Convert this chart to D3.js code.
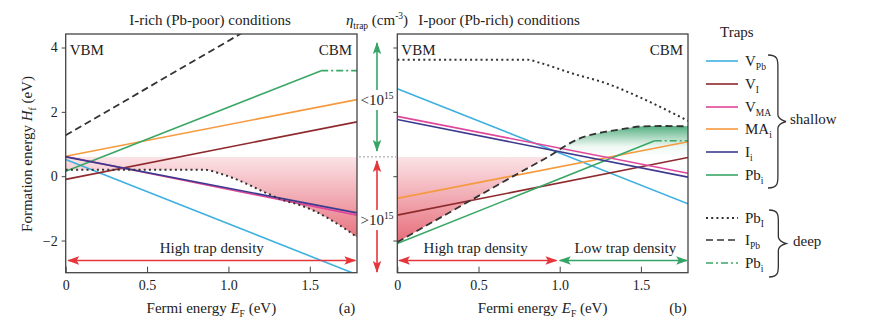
<!DOCTYPE html>
<html>
<head>
<meta charset="utf-8">
<script src="https://cdn.jsdelivr.net/npm/d3@7/dist/d3.min.js"></script>
<style>
    body { margin: 0; background: #fff; }
    svg, svg text { font-family: "Liberation Serif", "DejaVu Serif", serif !important; }
    svg text { fill: #222; }
</style>
</head>
<body>
<div id="chart"></div>
<script>
// ---- data: formation energy H_f (eV) vs Fermi energy E_F (eV) ----
const fermiDomain = [0, 1.79];
const energyDomain = [-3, 4.42];
const fermiTicks = [0, 0.5, 1.0, 1.5];
const energyTicks = [-2, 0, 2, 4];
const densityLimit = 0.6;   // H_f at which n_trap = 1e15 cm^-3

const trapKeys = ["VPb", "VI", "VMA", "MAi", "Ii", "Pbi"];
const trapColors = ["#3fb0e0", "#8e2a2e", "#e0479a", "#f59a3e", "#3b3a8f", "#3aa766"];

// I-rich (Pb-poor), shallow traps
const richVPb = [[0, 0.52], [1.79, -3.06]];
const richVI = [[0, -0.10], [1.79, 1.69]];
const richVMA = [[0, 0.61], [1.79, -1.21]];
const richMAi = [[0, 0.62], [1.79, 2.38]];
const richIi = [[0, 0.60], [1.79, -1.14]];
const richPbi = [[0, 0.15], [1.57, 3.28]];
// I-rich, deep traps
const richPbI = [[0, 0.2], [0.85, 0.2], [0.95, 0.08], [1.03, -0.06], [1.13, -0.28], [1.24, -0.54],
    [1.34, -0.75], [1.44, -0.9], [1.54, -1.11], [1.65, -1.42], [1.73, -1.68], [1.79, -1.9]];
const richIPb = [[0, 1.27], [1.79, 6.53]];
const richPbiDeep = [[1.57, 3.28], [1.79, 3.28]];

// I-poor (Pb-rich), shallow traps
const poorVPb = [[0, 2.72], [1.79, -0.86]];
const poorVI = [[0, -1.21], [1.79, 0.58]];
const poorVMA = [[0, 1.86], [1.79, 0.09]];
const poorMAi = [[0, -0.69], [1.79, 1.07]];
const poorIi = [[0, 1.76], [1.79, -0.03]];
const poorPbi = [[0, -2.09], [1.585, 1.10]];
// I-poor, deep traps
const poorPbI = [[0, 3.62], [0.8, 3.62], [0.88, 3.52], [1.08, 3.19], [1.29, 2.88], [1.49, 2.46],
    [1.7, 1.95], [1.79, 1.72]];
const poorIPb = [[0, -2.05], [0.76, 0.13], [0.96, 0.70], [1.04, 0.96], [1.12, 1.17], [1.23, 1.33],
    [1.37, 1.45], [1.51, 1.55], [1.62, 1.56], [1.79, 1.55]];
const poorPbiDeep = [[1.585, 1.10], [1.79, 1.10]];

// legend entries
const legendMain = ["V", "V", "V", "MA", "I", "Pb", "Pb", "I", "Pb"];
const legendSub = ["Pb", "I", "MA", "i", "i", "i", "I", "Pb", "i"];

const serif = "'Liberation Serif', 'DejaVu Serif', serif";

const svg = d3.select("#chart").append("svg")
    .attr("width", 876)
    .attr("height", 326)
    .attr("font-family", serif);

const defs = svg.append("defs");
const yShared = d3.scaleLinear().domain(energyDomain).range([272.7, 34]);

// shading: green (low density) above the limit, red (high density) below
let gTop = yShared(1.55), gBot = yShared(-2.1);
let cut = (yShared(densityLimit) - gTop) / (gBot - gTop);
let grad = defs.append("linearGradient")
    .attr("id", "densityFill")
    .attr("gradientUnits", "userSpaceOnUse")
    .attr("x1", 0).attr("x2", 0)
    .attr("y1", gTop).attr("y2", gBot);
[[0, "#58b184"], [cut - 0.09, "#eef8f2"], [cut, "#ffffff"], [cut + 0.001, "#fbe3e6"], [1, "#e66b78"]]
    .forEach(s => grad.append("stop").attr("offset", s[0]).attr("stop-color", s[1]));

function addArrowHead(id, color) {
    defs.append("marker")
        .attr("id", id)
        .attr("viewBox", "0 0 12 10")
        .attr("refX", 11)
        .attr("refY", 5)
        .attr("markerWidth", 12)
        .attr("markerHeight", 10)
        .attr("markerUnits", "userSpaceOnUse")
        .attr("orient", "auto-start-reverse")
        .append("path")
        .attr("d", "M0,0.8 L12,5 L0,9.2 L2.5,5 Z")
        .attr("fill", color);
}
addArrowHead("headRed", "#e5363c");
addArrowHead("headGreen", "#35a466");

function doubleArrow(x1, y1, x2, y2, color, head) {
    svg.append("line")
        .attr("x1", x1).attr("y1", y1)
        .attr("x2", x2).attr("y2", y2)
        .attr("stroke", color)
        .attr("stroke-width", 1.6)
        .attr("marker-start", `url(#${head})`)
        .attr("marker-end", `url(#${head})`);
}

// text with sub- or superscript parts
function scriptText(g, x, y, parts, anchor) {
    let t = g.append("text")
        .attr("x", x).attr("y", y)
        .attr("font-family", serif)
        .attr("font-size", 15)
        .attr("text-anchor", anchor || "start");
    let shift = 0;
    parts.forEach(p => {
        let dy = (p.dy || 0) - shift;
        shift = p.dy || 0;
        let s = t.append("tspan").text(p.t).attr("dy", dy);
        if (p.small) s.attr("font-size", 9.5);
        if (p.italic) s.attr("font-style", "italic");
    });
    return t;
}

function plainText(g, x, y, str, anchor) {
    return g.append("text")
        .attr("x", x).attr("y", y)
        .attr("font-family", serif)
        .attr("font-size", 15)
        .attr("text-anchor", anchor || "start")
        .text(str);
}


class TrapPanel {
    constructor(id, left, right, config) {
        this.id = id;
        this.left = left;
        this.right = right;
        this.config = config;
        this.initVis();
    }

    initVis() {
        let vis = this;

        vis.x = d3.scaleLinear().domain(fermiDomain).range([vis.left, vis.right]);
        vis.y = yShared;
        vis.top = vis.y.range()[1];
        vis.bottom = vis.y.range()[0];

        vis.g = svg.append("g").attr("class", "panel-" + vis.id);

        defs.append("clipPath").attr("id", "clip-" + vis.id)
            .append("rect")
            .attr("x", vis.left).attr("y", vis.top)
            .attr("width", vis.right - vis.left)
            .attr("height", vis.bottom - vis.top);

        vis.plot = vis.g.append("g").attr("clip-path", `url(#clip-${vis.id})`);

        vis.line = d3.line()
            .x(d => vis.x(d[0]))
            .y(d => vis.y(d[1]));

        vis.curve = d3.line()
            .curve(d3.curveMonotoneX)
            .x(d => vis.x(d[0]))
            .y(d => vis.y(d[1]));

        vis.area = d3.area()
            .curve(d3.curveMonotoneX)
            .x(d => vis.x(d[0]))
            .y0(vis.y(densityLimit))
            .y1(d => vis.y(d[1]));

        vis.updateVis();
    }

    updateVis() {
        let vis = this;
        let c = vis.config;

        // trap density shading
        vis.plot.append("path")
            .datum(c.shadeEdge)
            .attr("d", vis.area)
            .attr("fill", "url(#densityFill)");

        // shallow traps
        let order = [0, 1, 3, 5, 2, 4];
        vis.plot.selectAll(".shallow")
            .data(order)
            .enter().append("path")
            .attr("class", "shallow")
            .attr("d", i => vis.line(c.shallow[i]))
            .attr("fill", "none")
            .attr("stroke", i => trapColors[i])
            .attr("stroke-width", 1.6);

        // deep traps
        vis.plot.append("path").datum(c.pbI)
            .attr("d", vis.curve)
            .attr("fill", "none").attr("stroke", "#333")
            .attr("stroke-width", 2).attr("stroke-dasharray", "2,3.2");

        vis.plot.append("path").datum(c.iPb)
            .attr("d", vis.curve)
            .attr("fill", "none").attr("stroke", "#333")
            .attr("stroke-width", 1.8).attr("stroke-dasharray", "7,4");

        vis.plot.append("path").datum(c.pbiDeep)
            .attr("d", vis.line)
            .attr("fill", "none").attr("stroke", trapColors[5])
            .attr("stroke-width", 1.6).attr("stroke-dasharray", "7,3,2,3");

        // axes
        let xAxis = d3.axisBottom(vis.x)
            .tickValues(fermiTicks)
            .tickSize(-6)
            .tickPadding(7)
            .tickFormat(d => d === 0 ? "0" : d3.format(".1f")(d));

        vis.g.append("g")
            .attr("class", "x-axis axis")
            .attr("transform", `translate(0,${vis.bottom})`)
            .call(xAxis)
            .call(g => g.select(".domain").remove())
            .attr("font-size", 14)
            .attr("font-family", serif)
            .style("color", "#444");

        let yAxis = d3.axisLeft(vis.y)
            .tickValues(energyTicks)
            .tickSize(4)
            .tickPadding(4)
            .tickFormat(c.yLabels ? d3.format("d") : "");

        vis.g.append("g")
            .attr("class", "y-axis axis")
            .attr("transform", `translate(${vis.left},0)`)
            .call(yAxis)
            .call(g => g.select(".domain").remove())
            .attr("font-size", 14)
            .attr("font-family", serif)
            .style("color", "#444");

        vis.g.selectAll(".axis text").style("fill", "#222");

        vis.g.append("rect")
            .attr("x", vis.left).attr("y", vis.top)
            .attr("width", vis.right - vis.left)
            .attr("height", vis.bottom - vis.top)
            .attr("fill", "none")
            .attr("stroke", "#444")
            .attr("stroke-width", 1.3);

        // labels
        plainText(vis.g, vis.left + 4, 55, "VBM");
        plainText(vis.g, vis.right - 5, 55, "CBM", "end");
        plainText(vis.g, c.titleX, 25, c.title, "middle");

        let mid = (vis.left + vis.right) / 2;
        scriptText(vis.g, mid, 313, [{t: "Fermi energy "}, {t: "E", italic: true},
            {t: "F", small: true, dy: 4}, {t: " (eV)"}], "middle");
        plainText(vis.g, vis.right - 10, 313, c.tag, "middle");

        // density ranges along E_F
        let arrowY = vis.y(-2.62);
        c.ranges.forEach(r => {
            doubleArrow(vis.x(r.from), arrowY, vis.x(r.to), arrowY, r.color, r.head);
            plainText(vis.g, (vis.x(r.from) + vis.x(r.to)) / 2 + (r.shift || 0), arrowY - 7,
                r.label, "middle");
        });
    }
}

new TrapPanel("rich", 65.7, 357, {
    title: "I-rich (Pb-poor) conditions",
    titleX: 210,
    tag: "(a)",
    yLabels: true,
    shallow: [richVPb, richVI, richVMA, richMAi, richIi, richPbi],
    pbI: richPbI,
    iPb: richIPb,
    pbiDeep: richPbiDeep,
    shadeEdge: richPbI,
    ranges: [{from: 0.015, to: 1.78, color: "#e5363c", head: "headRed", label: "High trap density"}]
});

new TrapPanel("poor", 397.3, 688, {
    title: "I-poor (Pb-rich) conditions",
    titleX: 499,
    tag: "(b)",
    yLabels: false,
    shallow: [poorVPb, poorVI, poorVMA, poorMAi, poorIi, poorPbi],
    pbI: poorPbI,
    iPb: poorIPb,
    pbiDeep: poorPbiDeep,
    shadeEdge: poorIPb,
    ranges: [
        {from: 0.01, to: 0.98, color: "#e5363c", head: "headRed", label: "High trap density", shift: -2},
        {from: 1.0, to: 1.785, color: "#35a466", head: "headGreen", label: "Low trap density", shift: 2}
    ]
});

// n_trap scale between the panels
let midX = 377;
let limitY = yShared(densityLimit);
svg.append("line")
    .attr("x1", 359).attr("x2", 396)
    .attr("y1", limitY).attr("y2", limitY)
    .attr("stroke", "#999").attr("stroke-width", 1)
    .attr("stroke-dasharray", "2,2");

doubleArrow(midX, 43, midX, limitY - 6, "#35a466", "headGreen");
doubleArrow(midX, limitY + 4, midX, 272, "#e5363c", "headRed");

[[100, "<10"], [220, ">10"]].forEach(d => {
    svg.append("rect").attr("x", midX - 17).attr("y", d[0] - 10)
        .attr("width", 34).attr("height", 20).attr("fill", "#fff");
    scriptText(svg, midX, d[0] + 5, [{t: d[1]}, {t: "15", small: true, dy: -6}], "middle");
});

scriptText(svg, 377, 25, [{t: "η", italic: true}, {t: "trap", small: true, dy: 4},
    {t: " (cm"}, {t: "-3", small: true, dy: -6}, {t: ")"}], "middle");

// y axis title
scriptText(svg, 0, 0, [{t: "Formation energy "}, {t: "H", italic: true},
    {t: "f", small: true, dy: 4}, {t: " (eV)"}], "middle")
    .attr("transform", "translate(32,154) rotate(-90)");

// legend
let legend = svg.append("g").attr("class", "legend");
plainText(legend, 720, 37, "Traps");

let rowY = [61, 84, 107, 129, 152, 175, 218, 240, 263];
let rowColor = trapColors.concat(["#333", "#333", trapColors[5]]);
let rowDash = [null, null, null, null, null, null, "2,3.2", "7,4", "7,3,2,3"];

rowY.forEach((yy, i) => {
    legend.append("line")
        .attr("x1", 706).attr("x2", 738)
        .attr("y1", yy).attr("y2", yy)
        .attr("stroke", rowColor[i])
        .attr("stroke-width", i === 6 ? 2 : 1.6)
        .attr("stroke-dasharray", rowDash[i]);
    scriptText(legend, 745, yy + 5, [{t: legendMain[i]}, {t: legendSub[i], small: true, dy: 4}]);
});

function brace(x, y0, y1, w) {
    let m = (y0 + y1) / 2, h = w * 0.55;
    return `M${x},${y0} C${x + h},${y0} ${x + h},${y0 + 5} ${x + h},${y0 + 12} ` +
        `L${x + h},${m - 7} C${x + h},${m - 2} ${x + w},${m} ${x + w},${m} ` +
        `C${x + w},${m} ${x + h},${m + 2} ${x + h},${m + 7} ` +
        `L${x + h},${y1 - 12} C${x + h},${y1 - 5} ${x + h},${y1} ${x},${y1}`;
}

legend.append("path").attr("d", brace(768, 55, 188, 18))
    .attr("fill", "none").attr("stroke", "#333").attr("stroke-width", 1.3);
legend.append("path").attr("d", brace(769, 210, 277, 17))
    .attr("fill", "none").attr("stroke", "#333").attr("stroke-width", 1.3);

plainText(legend, 790, 124, "shallow");
plainText(legend, 793, 246, "deep");
</script>
</body>
</html>
